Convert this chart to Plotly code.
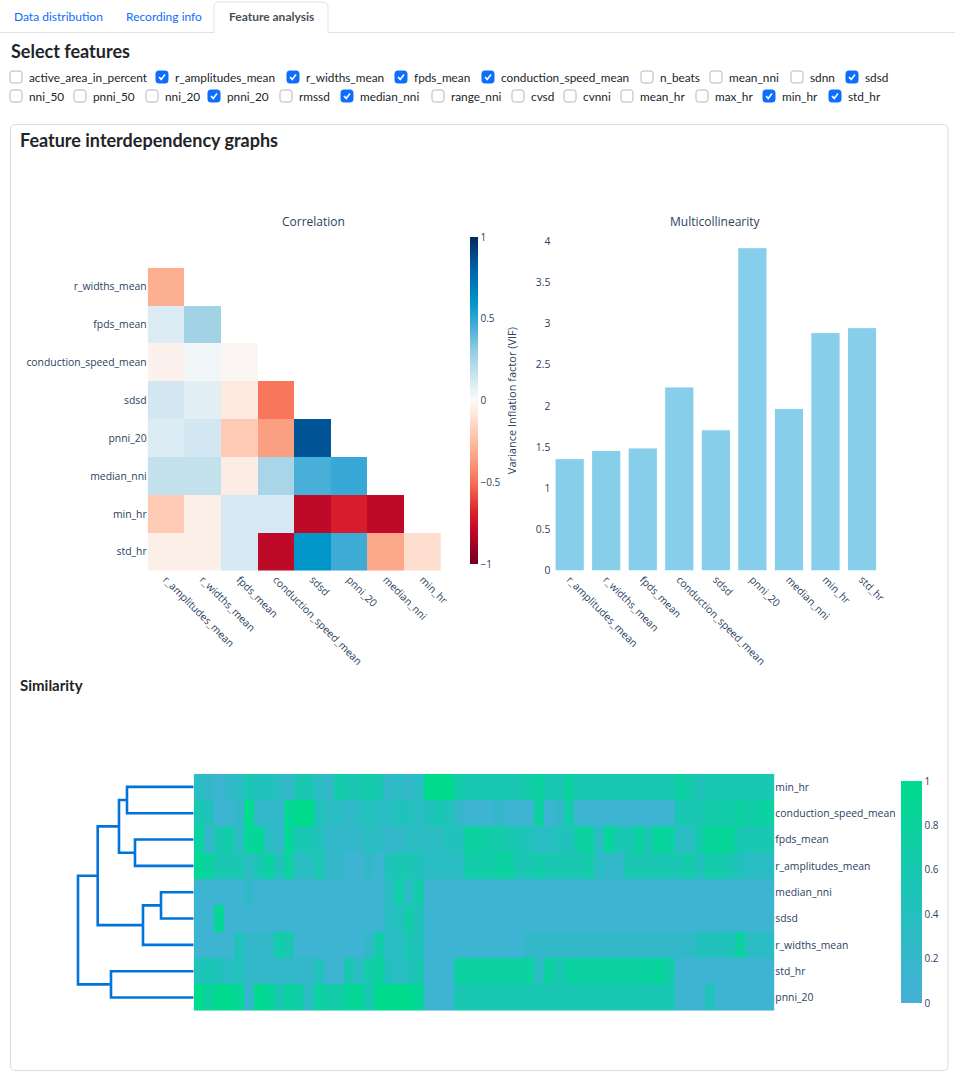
import plotly.graph_objects as go

W, H = 955, 1073

# ---------------- data ----------------
feat_row1 = ["active_area_in_percent", "r_amplitudes_mean", "r_widths_mean", "fpds_mean",
             "conduction_speed_mean", "n_beats", "mean_nni", "sdnn", "sdsd"]
feat_row2 = ["nni_50", "pnni_50", "nni_20", "pnni_20", "rmssd", "median_nni", "range_nni",
             "cvsd", "cvnni", "mean_hr", "max_hr", "min_hr", "std_hr"]
selected = ["r_amplitudes_mean", "r_widths_mean", "fpds_mean", "conduction_speed_mean",
            "sdsd", "pnni_20", "median_nni", "min_hr", "std_hr"]

# correlation (lower triangle, None = hidden)
corr_cols = ["r_amplitudes_mean", "r_widths_mean", "fpds_mean", "conduction_speed_mean",
             "sdsd", "pnni_20", "median_nni", "min_hr"]
corr_rows = ["r_widths_mean", "fpds_mean", "conduction_speed_mean", "sdsd",
             "pnni_20", "median_nni", "min_hr", "std_hr"]
corr_vals = [
    [-0.30, None, None, None, None, None, None, None],
    [0.10, 0.27, None, None, None, None, None, None],
    [-0.04, 0.03, -0.02, None, None, None, None, None],
    [0.13, 0.08, -0.07, -0.48, None, None, None, None],
    [0.10, 0.13, -0.20, -0.35, 0.85, None, None, None],
    [0.17, 0.17, -0.06, 0.25, 0.45, 0.48, None, None],
    [-0.20, -0.05, 0.12, 0.12, -0.80, -0.70, -0.80, None],
    [-0.05, -0.05, 0.12, -0.80, 0.60, 0.47, -0.32, -0.12],
]

# multicollinearity
vif_features = ["r_amplitudes_mean", "r_widths_mean", "fpds_mean", "conduction_speed_mean",
                "sdsd", "pnni_20", "median_nni", "min_hr", "std_hr"]
vif_values = [1.36, 1.46, 1.49, 2.23, 1.71, 3.92, 1.97, 2.89, 2.95]

# similarity map, rows in dendrogram order, values in ninths (0 = 0.0 ... 9 = 1.0)
sim_rows = ["min_hr", "conduction_speed_mean", "fpds_mean", "r_amplitudes_mean",
            "median_nni", "sdsd", "r_widths_mean", "std_hr", "pnni_20"]
sim_min_hr = "3212354432" "5532655652" "3239996555" "5556755755" "5555555576" "45555555"
sim_conduction = "5411292228" "9943323433" "4434542111" "2111712611" "1111111155" "56667677"
sim_fpds = "7256388328" "5542222332" "2333344776" "6554334477" "3855758733" "68885555"
sim_r_amp = "8755535747" "3352211214" "5543333666" "7755655556" "3225555556" "46654333"
sim_median = "1111121111" "1111111113" "6361111111" "1111111111" "1111111111" "11111111"
sim_sdsd = "1181111111" "1111111113" "4641111111" "1111111111" "1111111111" "11111111"
sim_r_widths = "1111422265" "1111111263" "3541111111" "1112222222" "2222222222" "44447333"
sim_std_hr = "4543422222" "2241153674" "3451117777" "7777375777" "7777778611" "11111111"
sim_pnni_20 = "9799829857" "6376688599" "9981115555" "5555555555" "5555555511" "14111111"

# dendrogram merges: (child a, child b, height); leaves 0..8 = sim_rows order
links = [(0, 1, 0.667), (2, 3, 0.587), (9, 10, 0.747), (4, 5, 0.327),
         (12, 6, 0.507), (11, 13, 0.96), (7, 8, 0.827), (14, 15, 1.157)]

# ---------------- helpers ----------------
def X(px):
    return px / W

def Y(py):
    return 1 - py / H

def P(x, y):
    return f"{X(x):.5f},{Y(y):.5f}"

def rrect(x0, y0, x1, y1, r):
    return (f"M{P(x0 + r, y0)} L{P(x1 - r, y0)} Q{P(x1, y0)} {P(x1, y0 + r)} "
            f"L{P(x1, y1 - r)} Q{P(x1, y1)} {P(x1 - r, y1)} L{P(x0 + r, y1)} "
            f"Q{P(x0, y1)} {P(x0, y1 - r)} L{P(x0, y0 + r)} Q{P(x0, y0)} {P(x0 + r, y0)} Z")

UI_FONT = "Lato"
CHART_FONT = "Open Sans"
TXT = "#2a3f5f"

fig = go.Figure()

# correlation heatmap
corr_scale = [
    [0.0, "rgb(110,0,30)"], [0.1, "rgb(190,10,40)"], [0.15, "rgb(215,28,45)"],
    [0.25, "rgb(246,112,86)"], [0.35, "rgb(253,175,145)"], [0.45, "rgb(254,228,214)"],
    [0.5, "rgb(250,250,250)"], [0.55, "rgb(220,236,244)"], [0.65, "rgb(150,205,228)"],
    [0.75, "rgb(45,165,212)"], [0.8, "rgb(0,150,200)"], [0.9, "rgb(0,100,170)"],
    [1.0, "rgb(5,40,95)"],
]
fig.add_trace(go.Heatmap(
    z=corr_vals, x=corr_cols, y=corr_rows, zmin=-1, zmax=1, colorscale=corr_scale,
    hoverongaps=False, xaxis="x", yaxis="y",
    colorbar=dict(x=X(470), xanchor="left", xpad=0, ypad=0, thickness=8,
                  len=327 / H, y=Y(400.5), yanchor="middle", outlinewidth=0,
                  tickvals=[-1, -0.5, 0, 0.5, 1], tickfont=dict(size=10, color=TXT)),
))

# VIF bars
fig.add_trace(go.Bar(
    x=vif_features, y=vif_values, marker=dict(color="skyblue", line=dict(color="white", width=1)),
    xaxis="x2", yaxis="y2", showlegend=False,
))

# similarity heatmap
sim_strings = [sim_min_hr, sim_conduction, sim_fpds, sim_r_amp, sim_median,
               sim_sdsd, sim_r_widths, sim_std_hr, sim_pnni_20]
sim_z = [[int(c) / 9 for c in s] for s in sim_strings]
sim_scale = [[0, "rgb(70,175,216)"], [0.5, "rgb(28,196,184)"], [1, "rgb(0,219,141)"]]
fig.add_trace(go.Heatmap(
    z=sim_z, x=list(range(len(sim_z[0]))), y=list(range(len(sim_rows))),
    zmin=0, zmax=1, colorscale=sim_scale, xaxis="x3", yaxis="y3",
    colorbar=dict(x=X(901), xanchor="left", xpad=0, ypad=0, thickness=21,
                  len=222 / H, y=Y(892), yanchor="middle", outlinewidth=0,
                  tickvals=[0, 0.2, 0.4, 0.6, 0.8, 1], tickfont=dict(size=10, color=TXT)),
))

# dendrogram from the link table
pos = {i: float(i) for i in range(len(sim_rows))}
hgt = {i: 0.0 for i in range(len(sim_rows))}
dx, dy = [], []
for k, (a, b, h) in enumerate(links):
    nid = len(sim_rows) + k
    dx += [hgt[a], h, h, hgt[b], None]
    dy += [pos[a], pos[a], pos[b], pos[b], None]
    pos[nid] = (pos[a] + pos[b]) / 2
    hgt[nid] = h
fig.add_trace(go.Scatter(x=dx, y=dy, mode="lines", line=dict(color="rgb(0,116,217)", width=2.6),
                         xaxis="x4", yaxis="y4", showlegend=False, hoverinfo="skip"))

tick_font = dict(family=CHART_FONT, size=10.4, color=TXT)
common = dict(showgrid=False, zeroline=False, automargin=False)
fig.update_layout(
    width=W, height=H, margin=dict(l=0, r=0, t=0, b=0, autoexpand=False),
    template="plotly_white", paper_bgcolor="white", plot_bgcolor="white",
    font=dict(family=CHART_FONT, color=TXT), showlegend=False,
    bargap=0.2,
    xaxis=dict(domain=[X(147.7), X(441)], tickangle=45, tickfont=tick_font, ticks="", **common),
    yaxis=dict(domain=[Y(570.7), Y(267.7)], autorange="reversed", tickfont=tick_font,
               ticks="", **common),
    xaxis2=dict(domain=[X(551.4), X(880.3)], tickangle=45, tickfont=tick_font, anchor="y2",
                **common),
    yaxis2=dict(domain=[Y(570.7), Y(230.4)], range=[0, 4.13], dtick=0.5, tickfont=tick_font,
                anchor="x2",
                title=dict(text="Variance Inflation factor (VIF)", font=dict(size=11, color=TXT),
                           standoff=16), **common),
    xaxis3=dict(domain=[X(193.7), X(774.3)], showticklabels=False, anchor="y3", **common),
    yaxis3=dict(domain=[Y(1010.7), Y(773.7)], autorange="reversed", side="right",
                tickvals=list(range(len(sim_rows))), ticktext=sim_rows, tickfont=tick_font,
                anchor="x3", ticks="", **common),
    xaxis4=dict(domain=[0, X(193.7)], range=[1.937, 0], visible=False, anchor="y4",
                automargin=False),
    yaxis4=dict(domain=[Y(1010.7), Y(773.7)], range=[8.5, -0.5], visible=False, anchor="x4",
                automargin=False),
)

shapes = []
ann = []

# tab bar
shapes.append(dict(type="line", xref="paper", yref="paper", x0=0, x1=1, y0=Y(32.5), y1=Y(32.5),
                   line=dict(color="#dee2e6", width=1)))
shapes.append(dict(type="path", xref="paper", yref="paper",
                   path=f"M{P(214, 34)} L{P(214, 7)} Q{P(214, 2)} {P(219, 2)} L{P(323, 2)} "
                        f"Q{P(328, 2)} {P(328, 7)} L{P(328, 34)} Z",
                   fillcolor="white", line=dict(color="rgba(0,0,0,0)", width=0)))
shapes.append(dict(type="path", xref="paper", yref="paper",
                   path=f"M{P(214, 32.5)} L{P(214, 7)} Q{P(214, 2)} {P(219, 2)} L{P(323, 2)} "
                        f"Q{P(328, 2)} {P(328, 7)} L{P(328, 32.5)}",
                   line=dict(color="#dee2e6", width=1)))
for label, x0, col, bold in [("Data distribution", 12, "#0d6efd", False),
                             ("Recording info", 124, "#0d6efd", False),
                             ("Feature analysis", 227, "#495057", True)]:
    ann.append(dict(text=label, x=X(x0), y=Y(17), xanchor="left", yanchor="middle",
                    font=dict(family=UI_FONT, size=12, color=col, weight=700 if bold else 400)))

ann.append(dict(text="Select features", x=X(9), y=Y(51), xanchor="left", yanchor="middle",
                font=dict(family=UI_FONT, size=18, color="#212529", weight=700)))

# checkboxes
row_boxes = [(feat_row1, 77, [10, 156, 287, 395, 482, 641, 710, 791, 846]),
             (feat_row2, 96, [10, 74, 146, 208, 280, 341, 432, 512, 564, 621, 696, 763, 829])]
for names, cy, xs in row_boxes:
    for name, bx in zip(names, xs):
        on = name in selected
        shapes.append(dict(type="path", xref="paper", yref="paper",
                           path=rrect(bx, cy - 6, bx + 12, cy + 6, 2.5),
                           fillcolor="#0d6efd" if on else "white",
                           line=dict(color="#0d6efd" if on else "#b5b5b5", width=1)))
        if on:
            shapes.append(dict(type="path", xref="paper", yref="paper",
                               path=f"M{P(bx + 3, cy)} L{P(bx + 5.2, cy + 2.4)} L{P(bx + 9, cy - 2.6)}",
                               line=dict(color="white", width=1.6)))
        ann.append(dict(text=name, x=X(bx + 17), y=Y(cy), xanchor="left", yanchor="middle",
                        font=dict(family=UI_FONT, size=11.8, color="#212529")))

# card
shapes.append(dict(type="path", xref="paper", yref="paper", path=rrect(10.5, 124.5, 948, 1070.5, 5),
                   line=dict(color="#dcdcdc", width=1), layer="below"))
ann.append(dict(text="Feature interdependency graphs", x=X(18), y=Y(140), xanchor="left",
                yanchor="middle", font=dict(family=UI_FONT, size=18, color="#212529", weight=700)))
ann.append(dict(text="Similarity", x=X(18), y=Y(685), xanchor="left", yanchor="middle",
                font=dict(family=UI_FONT, size=15, color="#212529", weight=700)))

# subplot titles
ann.append(dict(text="Correlation", x=X(313), y=Y(221), xanchor="center", yanchor="middle",
                font=dict(family=CHART_FONT, size=12, color=TXT)))
ann.append(dict(text="Multicollinearity", x=X(715), y=Y(221), xanchor="center", yanchor="middle",
                font=dict(family=CHART_FONT, size=12, color=TXT)))

for a in ann:
    a.update(xref="paper", yref="paper", showarrow=False)
fig.update_layout(shapes=shapes, annotations=ann)

fig.write_html("out.html", config={"displayModeBar": False},
               post_script="document.body.style.margin='0';"
                           "document.body.style.overflow='hidden';"
                           "document.documentElement.style.overflow='hidden';")
